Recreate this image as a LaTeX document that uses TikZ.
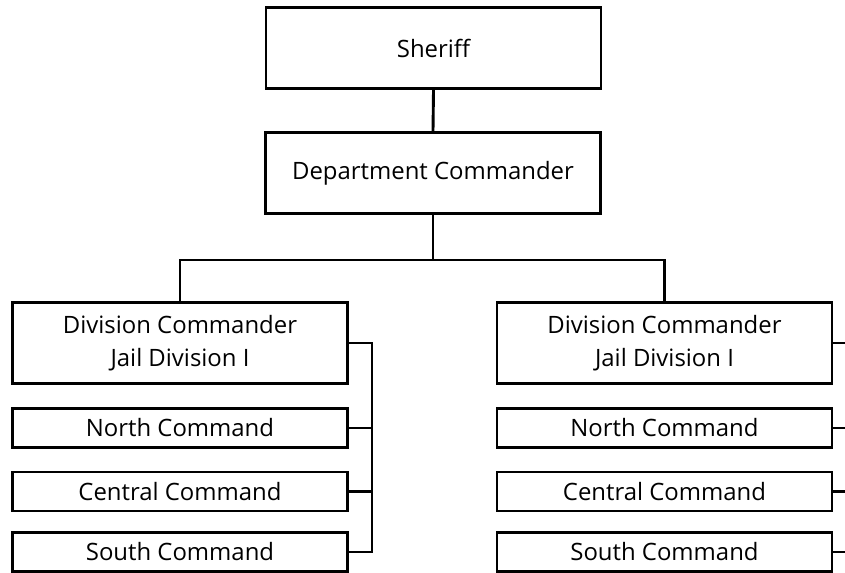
\documentclass[tikz,border=0pt]{standalone}
\usepackage{fontspec}
\setmainfont{Open Sans}
\begin{document}
\begin{tikzpicture}[x=1bp,y=-1bp,
  box/.style={draw=black, line width=2.9bp, rectangle, inner sep=0pt,
    minimum width=335bp, align=center, font=\fontsize{24}{33}\selectfont},
  big/.style={box, minimum height=81bp},
  small/.style={box, minimum height=39bp},
  link/.style={draw=black, line width=2.9bp, line cap=rect}]
\path[use as bounding box] (0,0) rectangle (845,573);

% top of the chain of command
\node[big] (sheriff) at (433.5,48) {Sheriff};
\node[big] (dept) at (433,173) {Department Commander};

% left jail division
\node[big]   (ldiv)   at (180,343)   {Division Commander\\Jail Division I};
\node[small] (lnorth) at (180,428)   {North Command};
\node[small] (lcent)  at (180,491.5) {Central Command};
\node[small] (lsouth) at (180,552)   {South Command};

% right jail division
\node[big]   (rdiv)   at (664.5,343)   {Division Commander\\Jail Division I};
\node[small] (rnorth) at (664.5,428)   {North Command};
\node[small] (rcent)  at (664.5,491.5) {Central Command};
\node[small] (rsouth) at (664.5,552)   {South Command};

% connector helpers
\coordinate (bus) at (435,260);
\coordinate (lbr) at (372,0);
\coordinate (rbr) at (845,0);

\draw[link] (sheriff.south) -- (dept.north);
\draw[link] (dept.south) -- (dept.south |- bus);
\draw[link] (ldiv.north) -- (ldiv.north |- bus) -- (rdiv.north |- bus) -- (rdiv.north);

% left bracket joining the commands
\draw[link] (ldiv.east) -- (ldiv.east -| lbr) -- (lsouth.east -| lbr) -- (lsouth.east);
\draw[link] (lnorth.east) -- (lnorth.east -| lbr);
\draw[link] (lcent.east) -- (lcent.east -| lbr);

% right bracket stubs
\draw[link] (rdiv.east) -- (rdiv.east -| rbr);
\draw[link] (rnorth.east) -- (rnorth.east -| rbr);
\draw[link] (rcent.east) -- (rcent.east -| rbr);
\draw[link] (rsouth.east) -- (rsouth.east -| rbr);
\end{tikzpicture}
\end{document}
